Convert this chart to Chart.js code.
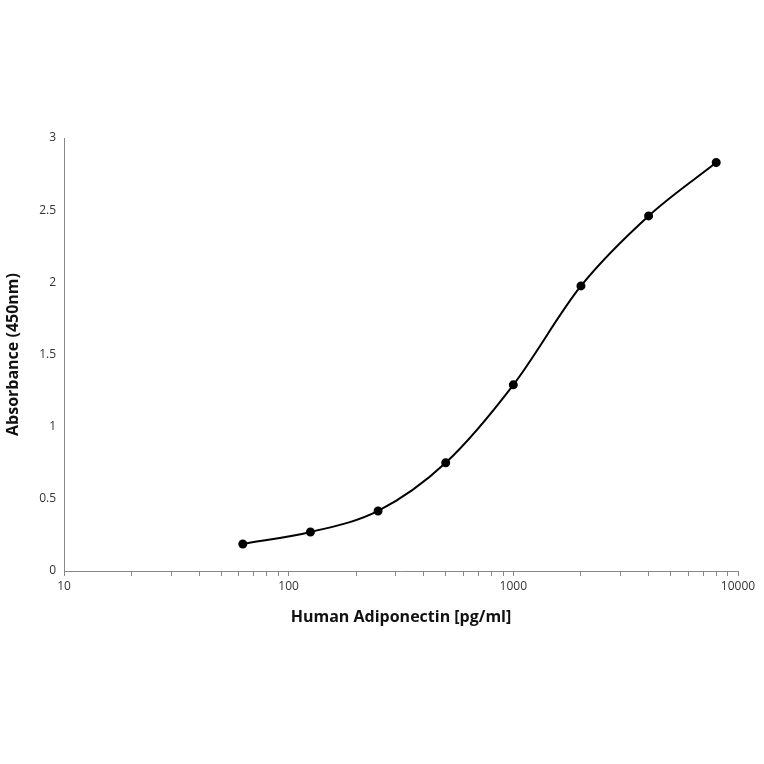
<!DOCTYPE html>
<html>
<head>
<meta charset="utf-8">
<script src="https://cdn.jsdelivr.net/npm/chart.js@4"></script>
<style>
  html, body { margin: 0; padding: 0; background: #fff; }
  #wrap { width: 764px; height: 764px; }
</style>
</head>
<body>
<div id="wrap"><canvas id="elisaChart"></canvas></div>
<script>
const concentrations = [62.5, 125, 250, 500, 1000, 2000, 4000, 8000];
const absorbance = [0.187, 0.27, 0.416, 0.75, 1.29, 1.975, 2.46, 2.83];
const xTickLabels = [10, 100, 1000, 10000];

const font = { family: '"Open Sans", sans-serif' };

new Chart(document.getElementById('elisaChart'), {
  type: 'line',
  data: {
    datasets: [
      {
        data: concentrations.map((x, i) => ({ x, y: absorbance[i] })),
        borderColor: '#000',
        backgroundColor: '#000',
        borderWidth: 2,
        pointRadius: 3.5,
        pointHoverRadius: 3.5,
        cubicInterpolationMode: 'monotone',
        fill: false,
      },
    ],
  },
  options: {
    responsive: true,
    maintainAspectRatio: false,
    animation: false,
    layout: { padding: { top: 138, right: 26, bottom: 133, left: 0 } },
    scales: {
      x: {
        type: 'logarithmic',
        min: 10,
        max: 10000,
        afterFit: (scale) => { scale.height = 60; },
        afterBuildTicks: (scale) => {
          const ticks = [];
          for (let d = 10; d < 10000; d *= 10) {
            for (let m = 1; m < 10; m += 1) ticks.push({ value: d * m });
          }
          ticks.push({ value: 10000 });
          scale.ticks = ticks;
        },
        ticks: {
          autoSkip: false,
          maxRotation: 0,
          color: '#333',
          font: { ...font, size: 12 },
          callback: (value) => (xTickLabels.includes(value) ? String(value) : ''),
        },
        grid: {
          drawOnChartArea: false,
          color: '#888',
          tickLength: 5,
        },
        border: { color: '#888', width: 1 },
        title: {
          display: true,
          text: 'Human Adiponectin [pg/ml]',
          color: '#111',
          font: { ...font, size: 16, weight: 'bold' },
          padding: { top: 4 },
        },
      },
      y: {
        min: 0,
        max: 3,
        afterFit: (scale) => { scale.width = 64; },
        ticks: {
          stepSize: 0.5,
          color: '#333',
          font: { ...font, size: 12 },
          padding: 8,
          callback: (value) => String(value),
        },
        grid: { drawOnChartArea: false, drawTicks: false, color: '#888' },
        border: { color: '#888', width: 1 },
        title: {
          display: true,
          text: 'Absorbance (450nm)',
          color: '#111',
          font: { ...font, size: 16, weight: 'bold' },
          padding: { bottom: 2 },
        },
      },
    },
    plugins: {
      legend: { display: false },
      tooltip: { enabled: false },
    },
  },
});
</script>
</body>
</html>
